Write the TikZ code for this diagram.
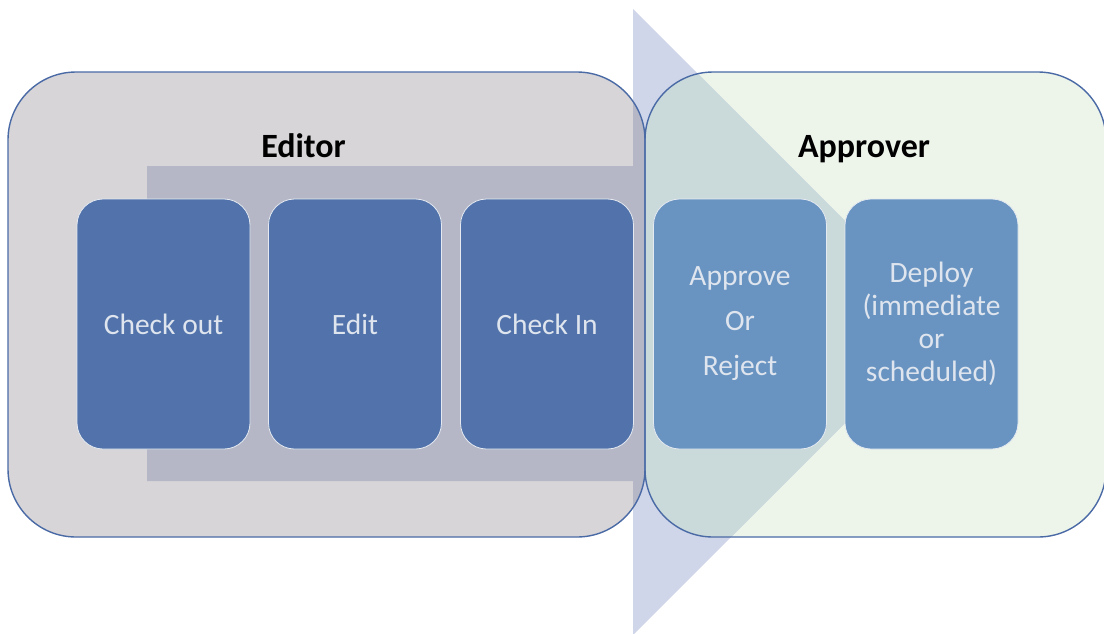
\documentclass[tikz,border=0pt]{standalone}
\usepackage{fontspec}
\setmainfont{Carlito}
\definecolor{editorfill}{HTML}{D7D5D7}
\definecolor{approverfill}{HTML}{EDF4E9}
\definecolor{arrowfill}{HTML}{D0D6EA}
\definecolor{arrowoneditor}{HTML}{B5B7C6}
\definecolor{arrowonapprover}{HTML}{CAD9DA}
\definecolor{stepdark}{HTML}{5172AA}
\definecolor{steplight}{HTML}{6994C1}
\definecolor{steptext}{HTML}{DFE5EE}
\definecolor{frameblue}{HTML}{4A6AA6}
\begin{document}
\begin{tikzpicture}[x=1pt,y=-1pt,
  phase/.style={draw=frameblue,line width=1.4pt,rounded corners=68pt},
  stepbox/.style={draw=white!85!stepdark,line width=0.8pt,rounded corners=26pt,
    minimum width=173pt,minimum height=250pt,inner sep=0pt,
    text=steptext,align=center,font=\fontsize{29.5}{33}\selectfont},
  title/.style={anchor=base,font=\fontsize{34}{40}\selectfont\bfseries,text=black}]
\useasboundingbox (0,0) rectangle (1104,633);

% container backgrounds
\fill[editorfill,rounded corners=68pt] (8,72) rectangle (645,537);
\fill[approverfill,rounded corners=68pt] (645,72) rectangle (1106,537);

% process arrow behind the steps
\def\arrowshape{(147,166) -- (633,166) -- (633,9) -- (946,322) -- (633,635) -- (633,481) -- (147,481) -- cycle}
\fill[arrowfill] \arrowshape;
\begin{scope}
  \clip[rounded corners=68pt] (8,72) rectangle (645,537);
  \fill[arrowoneditor] \arrowshape;
\end{scope}
\begin{scope}
  \clip[rounded corners=68pt] (645,72) rectangle (1106,537);
  \fill[arrowonapprover] \arrowshape;
\end{scope}

% container outlines
\draw[phase] (8,72) rectangle (645,537);
\draw[phase] (645,72) rectangle (1106,537);

% titles
\node[title] (editor) at (303.5,157) {Editor};
\node[title] (approver) at (864,157) {Approver};

% steps
\node[stepbox,fill=stepdark] (checkout) at (163.5,324) {Check out};
\node[stepbox,fill=stepdark] (edit) at (355,324) {Edit};
\node[stepbox,fill=stepdark] (checkin) at (547,324) {Check In};
\node[stepbox,fill=steplight] (approve) at (740,324) {Approve\\[12pt]Or\\[12pt]Reject};
\node[stepbox,fill=steplight] (deploy) at (931.5,324) {Deploy\\(immediate\\or\\scheduled)};
\end{tikzpicture}
\end{document}
